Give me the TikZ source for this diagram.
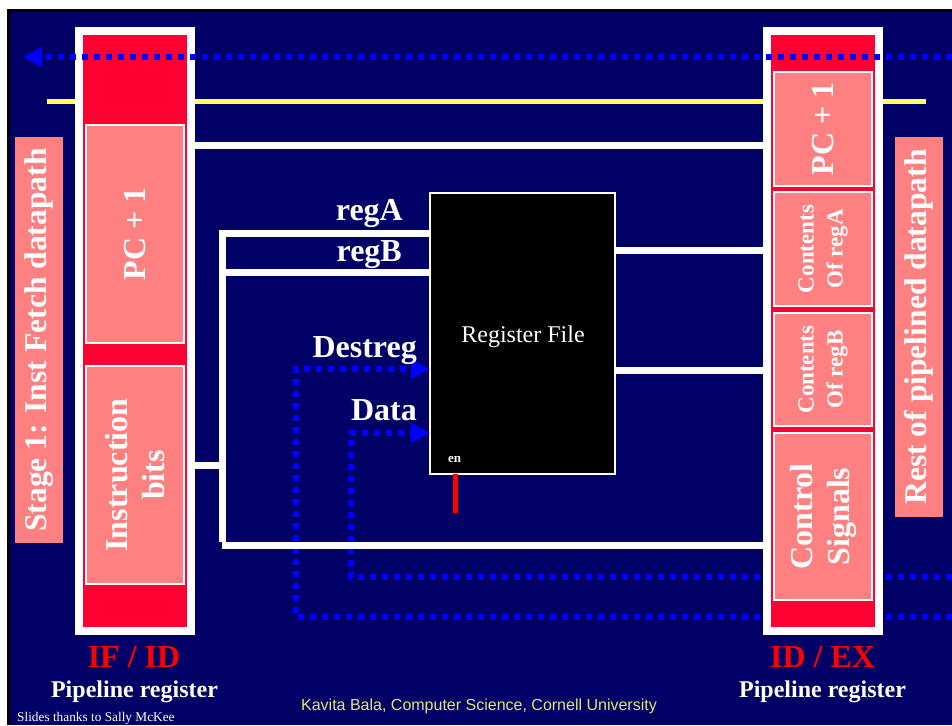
\documentclass[tikz,border=0pt]{standalone}
\usepackage{fontspec}
\setmainfont{Liberation Serif}
\newfontfamily\arialfont{Liberation Sans}
\usetikzlibrary{arrows.meta}
\definecolor{navy}{RGB}{0,0,102}
\definecolor{regred}{RGB}{255,0,51}
\definecolor{pinkbox}{RGB}{255,128,128}
\definecolor{yline}{RGB}{255,255,102}
\definecolor{ytext}{RGB}{230,230,110}
\definecolor{dotblue}{RGB}{0,0,255}
\tikzset{
  pipereg/.style={draw=white, line width=8pt, fill=regred, minimum width=112pt, minimum height=600pt, inner sep=0pt, outer sep=0pt},
  field/.style={draw=white, line width=1.5pt, fill=pinkbox, minimum width=98pt, inner sep=0pt},
  sidebox/.style={fill=pinkbox, minimum width=48pt, inner sep=0pt},
  vtext/.style={rotate=90, text=white, font=\bfseries\fontsize{32}{37}\selectfont, align=center},
  wire/.style={draw=white, line width=7pt},
  dotwire/.style={draw=dotblue, line width=6pt, dash pattern=on 6pt off 6pt},
  biglabel/.style={text=white, font=\bfseries\fontsize{32}{34}\selectfont, inner sep=0pt},
  tipA/.style={-{Triangle[length=19pt,width=19pt]}}
}
\begin{document}
\begin{tikzpicture}[x=1pt,y=-1pt]
\useasboundingbox (0,0) rectangle (952,725);
% frame
\fill[white] (0,0) rectangle (952,725);
\fill[black] (7,9) rectangle (952,725);
\fill[navy] (10,12) rectangle (952,725);

% side boxes
\node[sidebox, minimum height=406pt] (stage) at (39,340) {};
\node[vtext, font=\bfseries\fontsize{31.6}{34}\selectfont] (stagetxt) at (stage.center) {Stage 1: Inst Fetch datapath};
\node[sidebox, minimum height=380pt] (rest) at (919,327) {};
\node[vtext, font=\bfseries\fontsize{31.6}{34}\selectfont] (resttxt) at (rest.center) {Rest of pipelined datapath};

% yellow line (behind registers)
\coordinate (yl) at (47,101);
\coordinate (yr) at (926,101);
\draw[draw=yline, line width=5pt] (yl) -- (yr);

% coordinates for dotted feedback paths
\coordinate (dstart) at (952,617);
\coordinate (dcorner1) at (296,617);
\coordinate (dcorner2) at (296,369);
\coordinate (astart) at (952,577);
\coordinate (acorner1) at (351,577);
\coordinate (acorner2) at (351,433);
\coordinate (tstart) at (952,57);
\coordinate (tend) at (23,57);

% register file
\node[draw=white, line width=2pt, fill=black, minimum width=185pt, minimum height=281pt, inner sep=0pt, outer sep=0pt] (rf) at (522.5,333.5) {};
\node[text=white, font=\fontsize{24}{27}\selectfont, anchor=base] (rftxt) at (523,342) {Register File};
\node[text=white, font=\bfseries\fontsize{13}{15}\selectfont, anchor=base west, inner sep=0pt] (en) at (448,462) {en};
\coordinate (enbot) at (455,513);
\draw[draw=red, line width=5pt] (rf.south -| enbot) -- (enbot);

% dotted data paths (behind ID/EX)
\draw[dotwire, tipA] (dstart) -- (dcorner1) -- (dcorner2) -- (rf.west |- dcorner2);
\draw[dotwire, tipA] (astart) -- (acorner1) -- (acorner2) -- (rf.west |- acorner2);

% pipeline registers
\node[pipereg] (ifid) at (135,331) {};
\node[pipereg] (idex) at (823,331) {};

% fields in IF/ID
\node[field, minimum height=218pt] (pc1) at (135,234) {};
\node[vtext] (pc1t) at (pc1.center) {PC + 1};
\node[field, minimum height=218pt] (ibits) at (135,475) {};
\node[vtext] (ibitst) at (ibits.center) {Instruction\\bits};

% fields in ID/EX
\node[field, minimum height=114pt] (pc2) at (823,129) {};
\node[vtext] (pc2t) at (pc2.center) {PC + 1};
\node[field, minimum height=114pt] (ca) at (823,249) {};
\node[vtext, font=\bfseries\fontsize{23}{29}\selectfont] (cat) at (ca.center) {Contents\\Of regA};
\node[field, minimum height=113pt] (cb) at (823,369.5) {};
\node[vtext, font=\bfseries\fontsize{23}{29}\selectfont] (cbt) at (cb.center) {Contents\\Of regB};
\node[field, minimum height=167pt] (ctl) at (823,516.5) {};
\node[vtext] (ctlt) at (ctl.center) {Control\\Signals};

% white wires
\coordinate (vtop) at (222,233);
\coordinate (vmidB) at (222,272);
\coordinate (vin) at (222,465);
\coordinate (vbot) at (222,545);
\draw[wire] ([xshift=4pt]ifid.east |- 0,145) -- ([xshift=-4pt]idex.west |- 0,145);
\draw[wire] (rf.west |- vtop) -- (vtop) -- ([yshift=3.5pt]vbot) ;
\draw[wire] (vbot) -- ([xshift=-4pt]idex.west |- vbot);
\draw[wire] (vmidB) -- (rf.west |- vmidB);
\draw[wire] ([xshift=4pt]ifid.east |- vin) -- (vin);
\draw[wire] (rf.east |- 0,250) -- ([xshift=-4pt]idex.west |- 0,250);
\draw[wire] (rf.east |- 0,370) -- ([xshift=-4pt]idex.west |- 0,370);

% top dotted feedback (over registers)
\draw[dotwire, tipA] (tstart) -- (tend);

% labels
\node[biglabel, anchor=base east] (la) at (403,220) {regA};
\node[biglabel, anchor=base east] (lb) at (402,261) {regB};
\node[biglabel, anchor=base east] (ld) at (417,357) {Destreg};
\node[biglabel, anchor=base east] (ldata) at (417,420) {Data};

\node[text=red, font=\bfseries\fontsize{32}{34}\selectfont, anchor=base, inner sep=0pt] (ifidlbl) at (134,667) {IF / ID};
\node[text=white, font=\bfseries\fontsize{24}{26}\selectfont, anchor=base, inner sep=0pt] (ifidsub) at (134.5,697) {Pipeline register};
\node[text=red, font=\bfseries\fontsize{32}{34}\selectfont, anchor=base, inner sep=0pt] (idexlbl) at (822.5,667) {ID / EX};
\node[text=white, font=\bfseries\fontsize{24}{26}\selectfont, anchor=base, inner sep=0pt] (idexsub) at (822.5,697) {Pipeline register};

\node[text=ytext, font=\arialfont\fontsize{16}{18}\selectfont, anchor=base, inner sep=0pt] (credit) at (479,710) {Kavita Bala, Computer Science, Cornell University};
\node[text=white, font=\fontsize{13.3}{15}\selectfont, anchor=base west, inner sep=0pt] (thanks) at (17,721) {Slides thanks to Sally McKee};
\end{tikzpicture}
\end{document}
